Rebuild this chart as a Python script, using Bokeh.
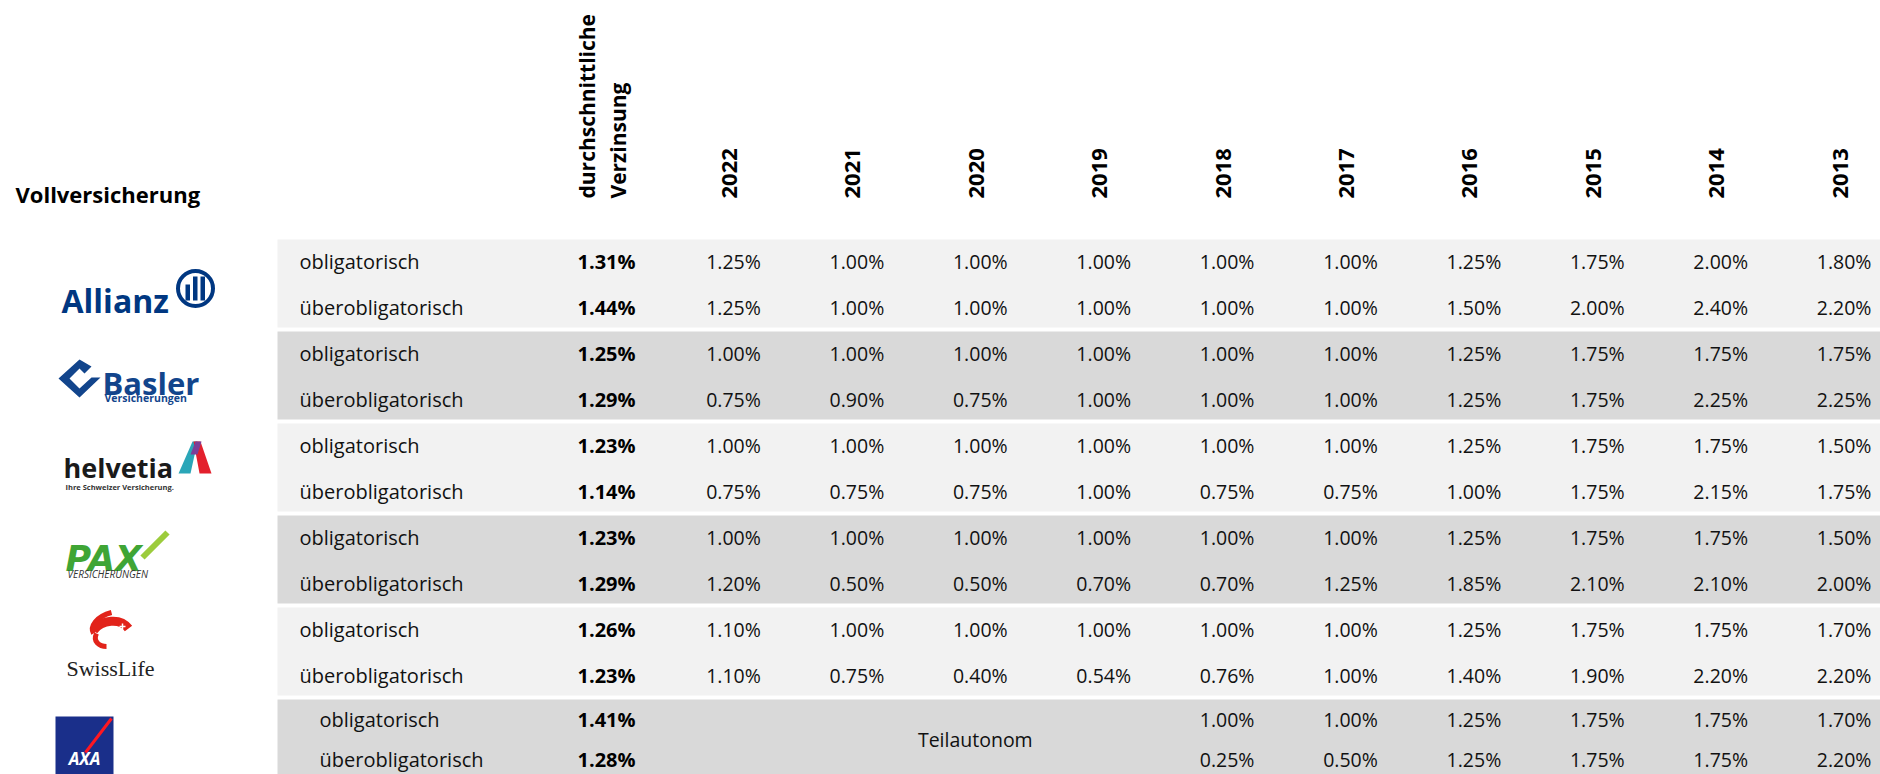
from math import pi
from bokeh.plotting import figure
from bokeh.models import Range1d, ColumnDataSource
from bokeh.embed import file_html
from bokeh.resources import INLINE
from bokeh.core.properties import value

# ---------------- data ----------------
section_title = "Vollversicherung"
avg_header = ["durchschnittliche", "Verzinsung"]
years = ["2022", "2021", "2020", "2019", "2018", "2017", "2016", "2015", "2014", "2013"]
companies = ["Allianz", "Basler", "Helvetia", "PAX", "Swiss Life", "AXA"]
categories = ["obligatorisch", "überobligatorisch"]

allianz_obl = [1.25, 1.00, 1.00, 1.00, 1.00, 1.00, 1.25, 1.75, 2.00, 1.80]
allianz_ueb = [1.25, 1.00, 1.00, 1.00, 1.00, 1.00, 1.50, 2.00, 2.40, 2.20]
basler_obl = [1.00, 1.00, 1.00, 1.00, 1.00, 1.00, 1.25, 1.75, 1.75, 1.75]
basler_ueb = [0.75, 0.90, 0.75, 1.00, 1.00, 1.00, 1.25, 1.75, 2.25, 2.25]
helvetia_obl = [1.00, 1.00, 1.00, 1.00, 1.00, 1.00, 1.25, 1.75, 1.75, 1.50]
helvetia_ueb = [0.75, 0.75, 0.75, 1.00, 0.75, 0.75, 1.00, 1.75, 2.15, 1.75]
pax_obl = [1.00, 1.00, 1.00, 1.00, 1.00, 1.00, 1.25, 1.75, 1.75, 1.50]
pax_ueb = [1.20, 0.50, 0.50, 0.70, 0.70, 1.25, 1.85, 2.10, 2.10, 2.00]
swisslife_obl = [1.10, 1.00, 1.00, 1.00, 1.00, 1.00, 1.25, 1.75, 1.75, 1.70]
swisslife_ueb = [1.10, 0.75, 0.40, 0.54, 0.76, 1.00, 1.40, 1.90, 2.20, 2.20]
axa_obl = [None, None, None, None, 1.00, 1.00, 1.25, 1.75, 1.75, 1.70]
axa_ueb = [None, None, None, None, 0.25, 0.50, 1.25, 1.75, 1.75, 2.20]

avg_obl = [1.31, 1.25, 1.23, 1.23, 1.26, 1.41]
avg_ueb = [1.44, 1.29, 1.14, 1.29, 1.23, 1.28]

axa_note = "Teilautonom"
axa_note_year = "2020"

series = [
    (allianz_obl, allianz_ueb),
    (basler_obl, basler_ueb),
    (helvetia_obl, helvetia_ueb),
    (pax_obl, pax_ueb),
    (swisslife_obl, swisslife_ueb),
    (axa_obl, axa_ueb),
]

# ---------------- layout ----------------
W, H = 1880, 774
FONT = "Open Sans"
col0, dcol = 733, 123.4
avg_x = 606
label_x = 299
band_left, band_right = 277, 1880
band_top0, band_h, band_period = 239, 88, 92
light, dark = "#f2f2f2", "#d9d9d9"

p = figure(width=W, height=H, x_range=Range1d(0, W), y_range=Range1d(H, 0),
           output_backend="svg", toolbar_location=None, min_border=0,
           x_axis_type=None, y_axis_type=None)
p.grid.visible = False
p.outline_line_color = None
p.background_fill_color = "white"
p.border_fill_color = "white"

# bands
btops = [band_top0 + i * band_period for i in range(len(companies))]
p.quad(left=band_left, right=band_right, top=btops, bottom=[t + band_h for t in btops],
       fill_color=[light if i % 2 == 0 else dark for i in range(len(companies))],
       line_color=None)

# cells
cx, cy, ct = [], [], []
ax_, ay_, at_ = [], [], []
lx, ly, lt = [], [], []
for i, (obl, ueb) in enumerate(series):
    top = btops[i]
    is_axa = companies[i] == "AXA"
    rows_y = [top + 20, top + 60] if is_axa else [top + 22, top + 68]
    avgs = [avg_obl[i], avg_ueb[i]]
    for r, vals in enumerate((obl, ueb)):
        y = rows_y[r]
        lx.append(label_x + (20 if is_axa else 0)); ly.append(y); lt.append(categories[r])
        ax_.append(avg_x); ay_.append(y); at_.append(f"{avgs[r]:.2f}%")
        for j, v in enumerate(vals):
            if v is None:
                continue
            cx.append(col0 + j * dcol); cy.append(y); ct.append(f"{v:.2f}%")

p.text(x="x", y="y", text="t", source=ColumnDataSource(dict(x=cx, y=cy, t=ct)),
       text_font=value(FONT), text_font_size=value("19.5px"), text_align="center",
       text_baseline="middle", text_color="#111111")
p.text(x="x", y="y", text="t", source=ColumnDataSource(dict(x=ax_, y=ay_, t=at_)),
       text_font=value(FONT), text_font_size=value("20px"), text_font_style="bold",
       text_align="center", text_baseline="middle", text_color="#000000")
p.text(x="x", y="y", text="t", source=ColumnDataSource(dict(x=lx, y=ly, t=lt)),
       text_font=value(FONT), text_font_size=value("20px"), text_align="left",
       text_baseline="middle", text_color="#111111")

# Teilautonom
axa_i = companies.index("AXA")
p.text(x=[col0 + years.index(axa_note_year) * dcol - 5], y=[btops[axa_i] + 40], text=[axa_note],
       text_font=value(FONT), text_font_size=value("19.5px"), text_align="center",
       text_baseline="middle", text_color="#111111")

# headers
p.text(x=[col0 - 4 + j * dcol for j in range(len(years))], y=[198] * len(years), text=years,
       angle=pi / 2, text_font=value(FONT), text_font_size=value("22px"), text_font_style="bold",
       text_align="left", text_baseline="middle", text_color="#000000")
p.text(x=[586, 617], y=[198, 198], text=avg_header, angle=pi / 2,
       text_font=value(FONT), text_font_size=value("21px"), text_font_style="bold",
       text_align="left", text_baseline="middle", text_color="#000000")
p.text(x=[15], y=[193], text=[section_title], text_font=value(FONT),
       text_font_size=value("22px"), text_font_style="bold", text_align="left",
       text_baseline="alphabetic", text_color="#000000")

# ---------------- logos (decorative) ----------------
# Allianz
p.text(x=[61], y=[300], text=["Allianz"], text_font=value(FONT), text_font_size=value("32px"),
       text_font_style="bold", text_color="#003781", text_baseline="alphabetic")
p.scatter(x=[195], y=[288], size=35, marker="circle", fill_color=None, line_color="#003781",
          line_width=4)
p.quad(left=[185, 192.5, 200], right=[189.5, 197, 204.5], top=[284, 276, 276],
       bottom=[300, 300, 300], fill_color="#003781", line_color=None)

# Basler
p.patch(x=[79, 58, 79, 100, 91, 79, 69, 79, 84, 91],
        y=[359, 378, 397, 377, 377, 388, 378, 368, 373, 366],
        fill_color="#12458c", line_color=None)
p.text(x=[102], y=[382], text=["Basler"], text_font=value(FONT), text_font_size=value("31px"),
       text_font_style="bold", text_color="#12458c", text_baseline="alphabetic")
p.text(x=[104], y=[397], text=["Versicherungen"], text_font=value(FONT),
       text_font_size=value("10.5px"), text_font_style="bold", text_color="#12458c",
       text_baseline="alphabetic")

# helvetia
p.text(x=[63], y=[467], text=["helvetia"], text_font=value(FONT), text_font_size=value("27px"),
       text_font_style="bold", text_color="#1a1a1a", text_baseline="alphabetic")
p.patches(xs=[[178, 190, 197, 192], [193, 200, 211, 199], [190, 197, 201, 195]],
          ys=[[473, 473, 441, 441], [441, 441, 473, 473], [454, 454, 441, 441]],
          fill_color=["#2aa6b8", "#e3202d", "#7b3f98"], line_color=None)
p.text(x=[65], y=[486], text=["Ihre Schweizer Versicherung."], text_font=value(FONT),
       text_font_size=value("7.5px"), text_font_style="bold", text_color="#333333",
       text_baseline="alphabetic")

# PAX
p.text(x=[65], y=[558], text=["PAX"], text_font=value("DejaVu Sans"), text_font_size=value("35px"),
       text_font_style="bold italic", text_color="#3fa535", text_baseline="alphabetic")
p.multi_line(xs=[[142, 167]], ys=[[557, 532]], line_color="#9ccc3c", line_width=6)
p.text(x=[67], y=[573], text=["VERSICHERUNGEN"], text_font=value(FONT),
       text_font_size=value("10px"), text_font_style="italic", text_color="#333333",
       text_baseline="alphabetic")

# Swiss Life
p.bezier(x0=[111], y0=[612], x1=[93], y1=[633], cx0=[96], cy0=[616], cx1=[89], cy1=[626],
         line_color="#e2231a", line_width=5)
p.bezier(x0=[93], y0=[630], x1=[128], y1=[628], cx0=[101], cy0=[619], cx1=[120], cy1=[617],
         line_color="#e2231a", line_width=9)
p.bezier(x0=[96], y0=[633], x1=[106], y1=[646], cx0=[92], cy0=[641], cx1=[99], cy1=[646],
         line_color="#e2231a", line_width=5)
p.multi_line(xs=[[119, 125], [122, 122]], ys=[[626, 626], [623, 629]], line_color="white",
             line_width=1.5)
p.text(x=[110], y=[668], text=["SwissLife"], text_font=value("Liberation Serif"),
       text_font_size=value("22px"), text_color="#222222", text_align="center",
       text_baseline="alphabetic")

# AXA
p.quad(left=[55], right=[113], top=[716], bottom=[776], fill_color="#1a2f8a", line_color=None)
p.multi_line(xs=[[85, 111]], ys=[[752, 718]], line_color="#ff1721", line_width=3)
p.text(x=[84], y=[758], text=["AXA"], text_font=value(FONT), text_font_size=value("17px"),
       text_font_style="bold italic", text_color="white", text_align="center",
       text_baseline="alphabetic")

open("out.html", "w").write(file_html(p, INLINE))
